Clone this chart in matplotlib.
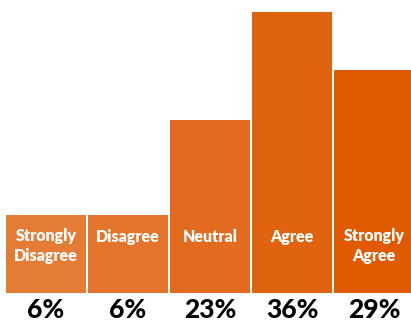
import matplotlib
matplotlib.use("Agg")
import matplotlib.pyplot as plt
import matplotlib.transforms as mtransforms

categories = ["Strongly\nDisagree", "Disagree", "Neutral", "Agree", "Strongly\nAgree"]
values = [6, 6, 23, 36, 29]
pct_labels = ["6%", "6%", "23%", "36%", "29%"]
colors = ["#E57C36", "#E3742A", "#E26B1F", "#E0640F", "#DF5A00"]

MIN_DISPLAY = 11.5  # small bars are drawn taller so their labels fit

W, H = 411, 325
fig = plt.figure(figsize=(W / 100, H / 100), dpi=100)
ax = fig.add_axes([0, 32 / H, 1, 281 / H])
ax.set_axis_off()

x = list(range(len(values)))
heights = [max(v, MIN_DISPLAY) for v in values]
base = 2.1
ax.bar(x, [h - base for h in heights], bottom=base, width=80 / 82, color=colors, linewidth=0)
ax.set_xlim(-46 / 82, (W - 46) / 82)
ax.set_ylim(base, 36)

fam = ["Lato", "DejaVu Sans"]
trans = mtransforms.blended_transform_factory(ax.transData, fig.transFigure)
for xi, cat, pl in zip(x, categories, pct_labels):
    nl = cat.count("\n")
    ax.text(xi, 1 - (242 + 19 * nl) / H, cat, transform=trans, ha="center", va="baseline",
            color="white", fontsize=11.5, fontweight=800, family=fam,
            linespacing=1.3)
    ax.text(xi, 1 - 318 / H, pl, transform=trans, ha="center", va="baseline",
            color="black", fontsize=19, fontweight=900, family=fam)

fig.savefig("out.png", dpi=100)
